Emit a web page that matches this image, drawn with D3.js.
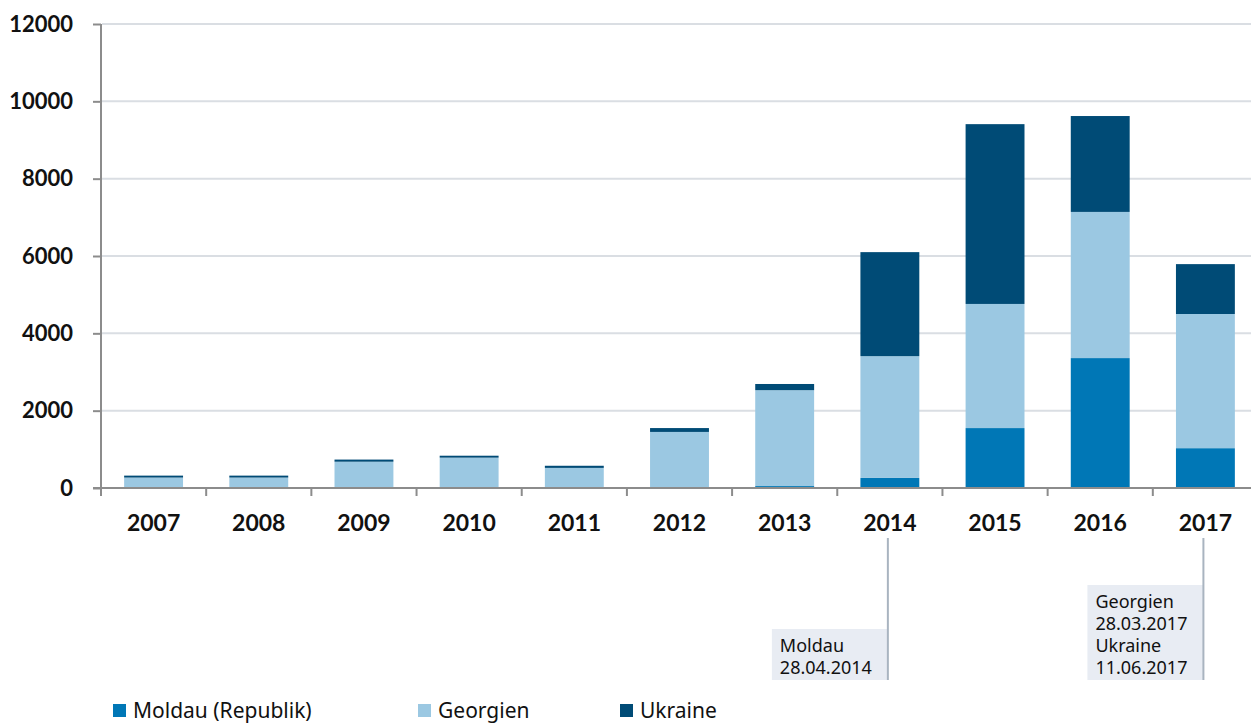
<!DOCTYPE html>
<html>
<head>
  <meta charset="utf-8">
  <script src="https://d3js.org/d3.v7.min.js"></script>
  <style>
    body { margin: 0; background: #fff; }
    svg { display: block; font-family: Lato, "Noto Sans", sans-serif; }
  </style>
</head>
<body>
<svg id="chart"></svg>
<script>
  // values
  const years = ["2007", "2008", "2009", "2010", "2011", "2012", "2013", "2014", "2015", "2016", "2017"];
  const moldau = [0, 0, 0, 0, 0, 0, 50, 260, 1550, 3360, 1030];
  const georgien = [270, 270, 680, 785, 520, 1450, 2480, 3150, 3210, 3780, 3470];
  const ukraine = [50, 50, 55, 50, 55, 100, 160, 2690, 4650, 2480, 1290];
  const seriesNames = ["Moldau (Republik)", "Georgien", "Ukraine"];
  const yTicks = [0, 2000, 4000, 6000, 8000, 10000, 12000];
  const notes = [
    { year: "2014", lines: ["Moldau", "28.04.2014"] },
    { year: "2017", lines: ["Georgien", "28.03.2017", "Ukraine", "11.06.2017"] }
  ];

  const colors = ["#0077b6", "#9bc8e2", "#004b76"];
  const width = 1251, height = 726;

  const svg = d3.select("#chart").attr("width", width).attr("height", height);

  const rows = years.map((y, i) => ({ year: y, moldau: moldau[i], georgien: georgien[i], ukraine: ukraine[i] }));
  const stack = d3.stack().keys(["moldau", "georgien", "ukraine"])(rows);

  const x = d3.scaleBand().domain(years).range([101, 1258]).padding(0);
  const y = d3.scaleLinear().domain([0, 12000]).range([488, 24]);
  const barW = x.bandwidth() * 0.56;

  // gridlines
  svg.append("g").selectAll("line")
    .data(yTicks.filter(d => d > 0))
    .join("line")
    .attr("x1", 102).attr("x2", width)
    .attr("y1", d => y(d)).attr("y2", d => y(d))
    .attr("stroke", "#dadee3").attr("stroke-width", 2);

  // bars
  svg.append("g").selectAll("g")
    .data(stack)
    .join("g")
    .attr("fill", (d, i) => colors[i])
    .selectAll("rect")
    .data(d => d)
    .join("rect")
    .attr("x", d => x(d.data.year) + (x.bandwidth() - barW) / 2)
    .attr("width", barW)
    .attr("y", d => y(d[1]))
    .attr("height", d => y(d[0]) - y(d[1]));

  // y axis
  const yAxis = svg.append("g")
    .attr("transform", "translate(101,0)")
    .call(d3.axisLeft(y).tickValues(yTicks).tickSize(8).tickPadding(20).tickFormat(d3.format("d")));
  yAxis.select(".domain").attr("stroke", "#8c8c8c").attr("stroke-width", 2).attr("d", "M0,24V496");
  yAxis.selectAll(".tick line").attr("stroke", "#8c8c8c").attr("stroke-width", 2);
  yAxis.selectAll(".tick text")
    .attr("fill", "#111").attr("font-size", 22).attr("font-weight", "bold")
    .attr("font-family", "Lato, 'Noto Sans', sans-serif");

  // x axis: ticks sit on category boundaries
  const xg = svg.append("g");
  xg.append("line")
    .attr("x1", 93).attr("x2", width).attr("y1", 488).attr("y2", 488)
    .attr("stroke", "#8c8c8c").attr("stroke-width", 2);
  xg.selectAll("line.tk")
    .data(years.slice(1))
    .join("line").attr("class", "tk")
    .attr("x1", d => x(d)).attr("x2", d => x(d))
    .attr("y1", 488).attr("y2", 496)
    .attr("stroke", "#8c8c8c").attr("stroke-width", 2);
  xg.selectAll("text")
    .data(years)
    .join("text")
    .attr("x", d => x(d) + x.bandwidth() / 2)
    .attr("y", 531)
    .attr("text-anchor", "middle")
    .attr("font-size", 23).attr("font-weight", "bold").attr("fill", "#111")
    .text(d => d);

  // annotations
  const lineH = 22;
  const ng = svg.append("g").selectAll("g").data(notes).join("g");
  ng.each(function (d) {
    const g = d3.select(this);
    const cx = x(d.year) + x.bandwidth() / 2 - 2;
    const boxH = d.lines.length * lineH + 7;
    const top = 680 - boxH;
    g.append("rect")
      .attr("x", cx - 116).attr("y", top)
      .attr("width", 116).attr("height", boxH)
      .attr("fill", "#e8ecf3");
    g.append("line")
      .attr("x1", cx).attr("x2", cx)
      .attr("y1", 538).attr("y2", 680)
      .attr("stroke", "#a9b4c0").attr("stroke-width", 2);
    g.selectAll("text")
      .data(d.lines)
      .join("text")
      .attr("x", cx - 108)
      .attr("y", (t, i) => top + 23 + i * lineH)
      .attr("font-family", "'Noto Sans', sans-serif")
      .attr("font-size", 18).attr("fill", "#111")
      .text(t => t);
  });

  // legend
  const legendX = [113, 418, 620];
  const lg = svg.append("g").selectAll("g")
    .data(seriesNames)
    .join("g")
    .attr("transform", (d, i) => `translate(${legendX[i]},704)`);
  lg.append("rect")
    .attr("width", 13).attr("height", 13)
    .attr("fill", (d, i) => colors[i]);
  lg.append("text")
    .attr("x", 20).attr("y", 14)
    .attr("font-family", "'Noto Sans', sans-serif")
    .attr("font-size", 21).attr("fill", "#111")
    .text(d => d);
</script>
</body>
</html>
